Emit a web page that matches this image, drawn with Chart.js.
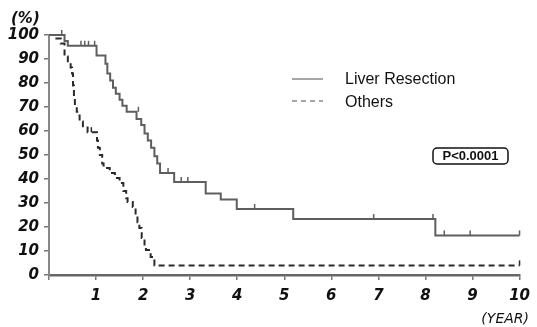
<!DOCTYPE html>
<html>
<head>
<meta charset="utf-8">
<script src="https://cdn.jsdelivr.net/npm/chart.js@4/dist/chart.umd.min.js"></script>
<style>
  html, body { margin: 0; padding: 0; background: #fff; }
  #wrap { width: 537px; height: 327px; position: relative; }
</style>
</head>
<body>
<div id="wrap"><canvas id="myChart"></canvas></div>
<script>
// Kaplan-Meier steps: year where the level starts, survival (%) from that year on
const liverYears = [0, 0.33, 0.40, 1.01, 1.20, 1.24, 1.30, 1.36, 1.42, 1.50, 1.56, 1.65, 1.86, 1.96, 2.03, 2.10, 2.17, 2.24, 2.30, 2.36, 2.66, 3.33, 3.65, 3.99, 5.19, 8.21, 10];
const liverSurvival = [100, 97.5, 95.5, 91.5, 88, 84, 81, 78, 75.5, 73, 70.5, 68, 65, 62.5, 59, 56, 53, 49.5, 46.5, 42.5, 38.7, 34, 31.5, 27.5, 23.3, 16.5, 16.5];

const othersYears = [0, 0.13, 0.25, 0.33, 0.40, 0.46, 0.49, 0.51, 0.53, 0.55, 0.59, 0.65, 0.72, 0.82, 1.02, 1.04, 1.08, 1.13, 1.16, 1.29, 1.40, 1.50, 1.58, 1.64, 1.67, 1.78, 1.84, 1.88, 1.92, 1.97, 2.03, 2.06, 2.16, 2.24, 10];
const othersSurvival = [100, 98.5, 96.5, 91, 88.5, 86.5, 84, 79, 74, 70, 68, 64, 62, 59.5, 56, 53, 50, 46.5, 44.6, 42.5, 40.4, 38.3, 35, 32, 30.4, 28.3, 25, 22, 19.6, 15.4, 12, 10.4, 7.5, 4, 4];

// censored cases (year, level)
const liverCensorYears = [0.27, 0.68, 0.76, 0.84, 0.97, 1.90, 2.53, 2.81, 2.95, 4.37, 6.90, 8.16, 8.40, 8.95, 10];
const liverCensorLevels = [100, 95.5, 95.5, 95.5, 95.5, 68, 42.5, 38.7, 38.7, 27.5, 23.3, 23.3, 16.5, 16.5, 16.5];
const othersCensorYears = [0.90, 10];
const othersCensorLevels = [59.5, 4];

const seriesNames = ["Liver Resection", "Others"];
const pValueText = "P<0.0001";

const toPoints = (xs, ys) => xs.map((x, i) => ({ x: x, y: ys[i] }));

const liverColor = "#5e5e5e";
const othersColor = "#2a2a2a";
const axisColor = "#777";
const tickFont = { family: "DejaVu Sans", size: 15, style: "italic", weight: "bold" };

const extrasPlugin = {
  id: "extras",
  afterDatasetsDraw(chart) {
    const ctx = chart.ctx;
    const xs = chart.scales.x;
    const ys = chart.scales.y;
    ctx.save();
    // censor ticks
    const drawCensor = (years, levels, color) => {
      ctx.strokeStyle = color;
      ctx.lineWidth = 1.5;
      ctx.setLineDash([]);
      years.forEach((yr, i) => {
        const px = xs.getPixelForValue(yr);
        const py = ys.getPixelForValue(levels[i]);
        ctx.beginPath();
        ctx.moveTo(px, py);
        ctx.lineTo(px, py - 5);
        ctx.stroke();
      });
    };
    drawCensor(liverCensorYears, liverCensorLevels, liverColor);
    drawCensor(othersCensorYears, othersCensorLevels, othersColor);

    // legend
    ctx.lineWidth = 1.5;
    ctx.strokeStyle = "#888";
    ctx.beginPath();
    ctx.moveTo(292, 79);
    ctx.lineTo(323, 79);
    ctx.stroke();
    ctx.setLineDash([5, 4]);
    ctx.beginPath();
    ctx.moveTo(292, 101);
    ctx.lineTo(323, 101);
    ctx.stroke();
    ctx.setLineDash([]);
    ctx.fillStyle = "#111";
    ctx.font = "16px 'Liberation Sans'";
    ctx.textAlign = "left";
    ctx.textBaseline = "alphabetic";
    ctx.fillText(seriesNames[0], 345, 84);
    ctx.fillText(seriesNames[1], 345, 107);

    // p value box
    ctx.lineWidth = 1.5;
    ctx.strokeStyle = "#111";
    ctx.beginPath();
    ctx.roundRect(433, 148, 75, 16, 4);
    ctx.stroke();
    ctx.font = "bold 13px 'Liberation Sans'";
    ctx.textAlign = "center";
    ctx.textBaseline = "middle";
    ctx.fillText(pValueText, 470.5, 156.5);

    // axis units
    ctx.font = "italic bold 15px 'DejaVu Sans'";
    ctx.textAlign = "left";
    ctx.textBaseline = "middle";
    ctx.fillText("(%)", 11, 19);
    ctx.font = "italic 14px 'DejaVu Sans'";
    ctx.textAlign = "right";
    ctx.fillText("(YEAR)", 529, 319);
    ctx.restore();
  }
};

new Chart(document.getElementById("myChart"), {
  type: "line",
  data: {
    datasets: [
      {
        label: seriesNames[0],
        data: toPoints(liverYears, liverSurvival),
        stepped: "before",
        borderColor: liverColor,
        borderWidth: 2,
        pointRadius: 0,
        fill: false,
        clip: false,
      },
      {
        label: seriesNames[1],
        data: toPoints(othersYears, othersSurvival),
        stepped: "before",
        borderColor: othersColor,
        borderWidth: 2,
        borderDash: [6, 4],
        pointRadius: 0,
        fill: false,
        clip: false,
      },
    ],
  },
  options: {
    responsive: true,
    maintainAspectRatio: false,
    animation: false,
    layout: { padding: { left: 0, right: 14, top: 35, bottom: 0 } },
    plugins: {
      legend: { display: false },
      tooltip: { enabled: false },
    },
    scales: {
      x: {
        type: "linear",
        min: 0,
        max: 10,
        afterFit: (scale) => { scale.height = 52; },
        border: { display: true, color: "#666", width: 2.5 },
        grid: { drawOnChartArea: false, drawTicks: true, tickLength: 5, color: axisColor, lineWidth: 1.5 },
        ticks: {
          stepSize: 1,
          color: "#111",
          font: tickFont,
          padding: 7,
          maxRotation: 0,
          callback: (value) => (value === 0 ? "" : value),
        },
      },
      y: {
        min: 0,
        max: 100,
        afterFit: (scale) => { scale.width = 49; },
        border: { display: true, color: "#888", width: 2 },
        grid: { drawOnChartArea: false, drawTicks: true, tickLength: 5, color: axisColor, lineWidth: 1.5 },
        ticks: {
          stepSize: 10,
          color: "#111",
          font: tickFont,
          padding: 5,
        },
      },
    },
  },
  plugins: [extrasPlugin],
});
</script>
</body>
</html>
